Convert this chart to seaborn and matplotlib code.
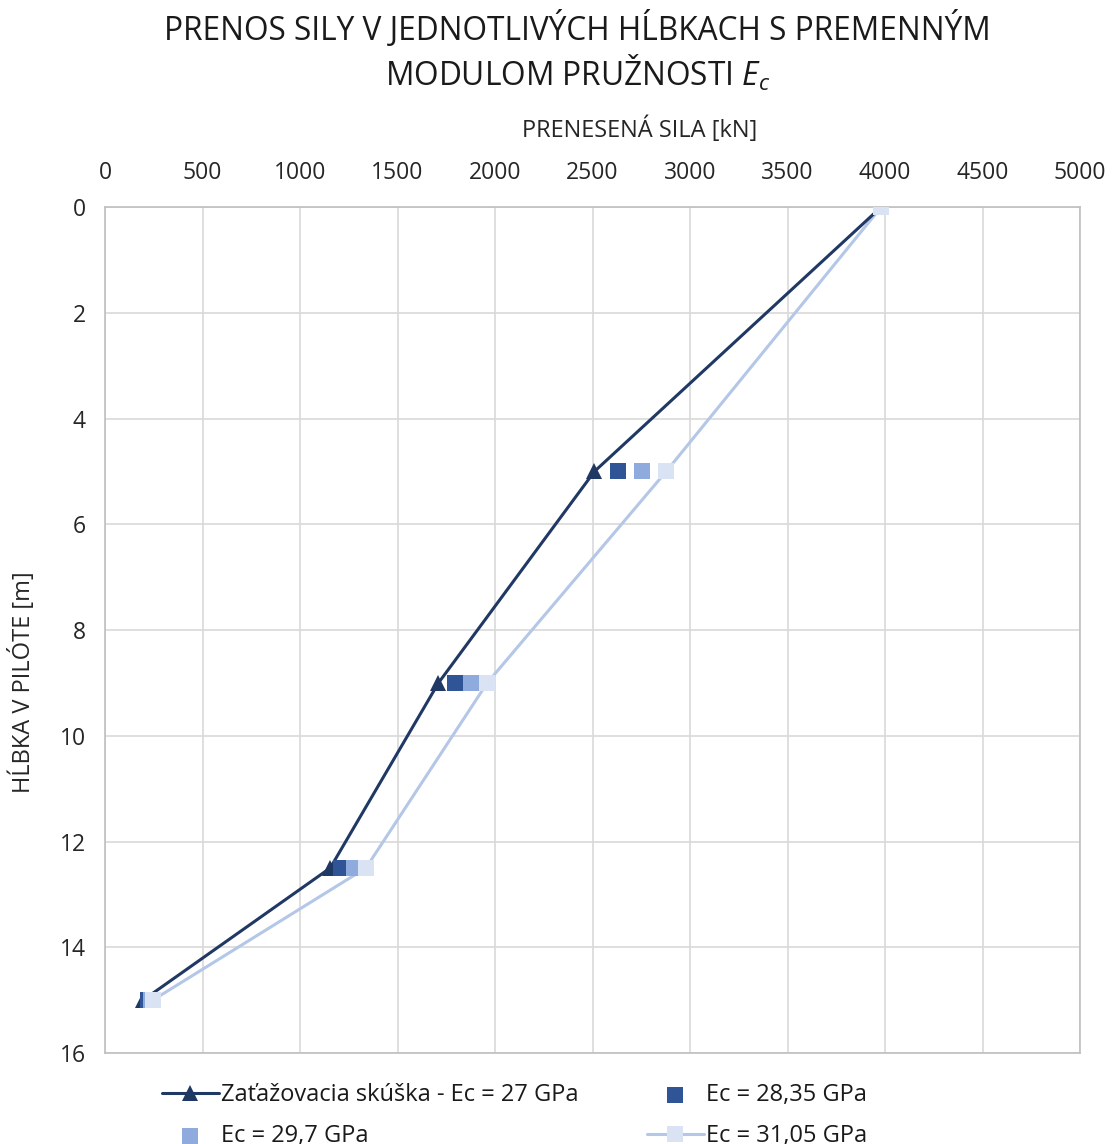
import matplotlib
matplotlib.use("Agg")
import matplotlib.pyplot as plt
import seaborn as sns
import pandas as pd

# depths along the pile [m]
depth = [0, 5, 9, 12.5, 15]

# transferred force [kN] for each modulus
force_27 = [3980, 2510, 1710, 1155, 195]
force_2835 = [3980, 2630, 1795, 1210, 220]
force_297 = [3980, 2755, 1878, 1277, 236]
force_3105 = [3980, 2878, 1960, 1338, 245]

labels = [
    "Zaťažovacia skúška - Ec = 27 GPa",
    "Ec = 28,35 GPa",
    "Ec = 29,7 GPa",
    "Ec = 31,05 GPa",
]
colors = ["#203864", "#2f5597", "#8faadc", "#b4c7e7"]
light_marker = "#dae3f3"
txt = "#262626"

sns.set_theme(style="white")
plt.rcParams["font.family"] = ["Open Sans", "DejaVu Sans"]
plt.rcParams["mathtext.fontset"] = "custom"
plt.rcParams["mathtext.it"] = "Open Sans:italic"
plt.rcParams["mathtext.rm"] = "Open Sans"

fig = plt.figure(figsize=(11.17, 11.44), dpi=100)
ax = fig.add_axes([0.094, 0.0795, 0.8729, 0.7395])

df1 = pd.DataFrame({"sila": force_27, "hlbka": depth})
df2 = pd.DataFrame({"sila": force_2835, "hlbka": depth})
df3 = pd.DataFrame({"sila": force_297, "hlbka": depth})
df4 = pd.DataFrame({"sila": force_3105, "hlbka": depth})

sns.lineplot(data=df1, x="sila", y="hlbka", sort=False, ax=ax, color=colors[0],
             lw=2.2, marker="^", markersize=11, markeredgewidth=0,
             label=labels[0], zorder=3)
sns.scatterplot(data=df2, x="sila", y="hlbka", ax=ax, color=colors[1],
                marker="s", s=120, linewidth=0, label=labels[1], zorder=4)
sns.scatterplot(data=df3, x="sila", y="hlbka", ax=ax, color=colors[2],
                marker="s", s=120, linewidth=0, label=labels[2], zorder=4)
sns.lineplot(data=df4, x="sila", y="hlbka", sort=False, ax=ax, color=colors[3],
             lw=2.2, marker="s", markersize=11, markeredgewidth=0,
             markerfacecolor=light_marker, label=labels[3], zorder=2)
# light markers drawn again on top of the others
sns.scatterplot(data=df4, x="sila", y="hlbka", ax=ax, color=light_marker,
                marker="s", s=120, linewidth=0, legend=False, zorder=5)

ax.set_xlim(0, 5000)
ax.set_ylim(16, 0)
ax.set_xticks(range(0, 5001, 500))
ax.set_yticks(range(0, 17, 2))
ax.xaxis.tick_top()
ax.tick_params(axis="both", length=0, labelsize=16.5, labelcolor=txt)
ax.tick_params(axis="x", pad=16)
ax.tick_params(axis="y", pad=14)
ax.grid(True, color="#d9d9d9", lw=1.2)
ax.set_axisbelow(True)
for sp in ax.spines.values():
    sp.set_color("#bfbfbf")
    sp.set_linewidth(1.2)

ax.set_xlabel("")
ax.set_ylabel("HĹBKA V PILÓTE [m]", fontsize=17, color=txt)
ax.yaxis.set_label_coords(-0.071, 0.4385)

fig.text(0.573, 1 - 130 / 1144, "PRENESENÁ SILA [kN]", ha="center", va="center",
         fontsize=17, color=txt)
fig.text(0.517, 1 - 30 / 1144, "PRENOS SILY V JEDNOTLIVÝCH HĹBKACH S PREMENNÝM",
         ha="center", va="center", fontsize=22.8, color="#1a1a1a")
fig.text(0.517, 1 - 73 / 1144, "MODULOM PRUŽNOSTI $E_c$",
         ha="center", va="center", fontsize=22.8, color="#1a1a1a")

h, l = ax.get_legend_handles_labels()
order = [0, 2, 1, 3]
ax.legend([h[i] for i in order], [l[i] for i in order], ncol=2,
          loc="upper left", bbox_to_anchor=(0.1366, 0.0614), bbox_transform=fig.transFigure,
          frameon=False, fontsize=17, labelcolor="#1a1a1a",
          columnspacing=2.9, handletextpad=0.1, handlelength=2.4,
          labelspacing=0.72, borderaxespad=0)

fig.savefig("out.png", dpi=100)
